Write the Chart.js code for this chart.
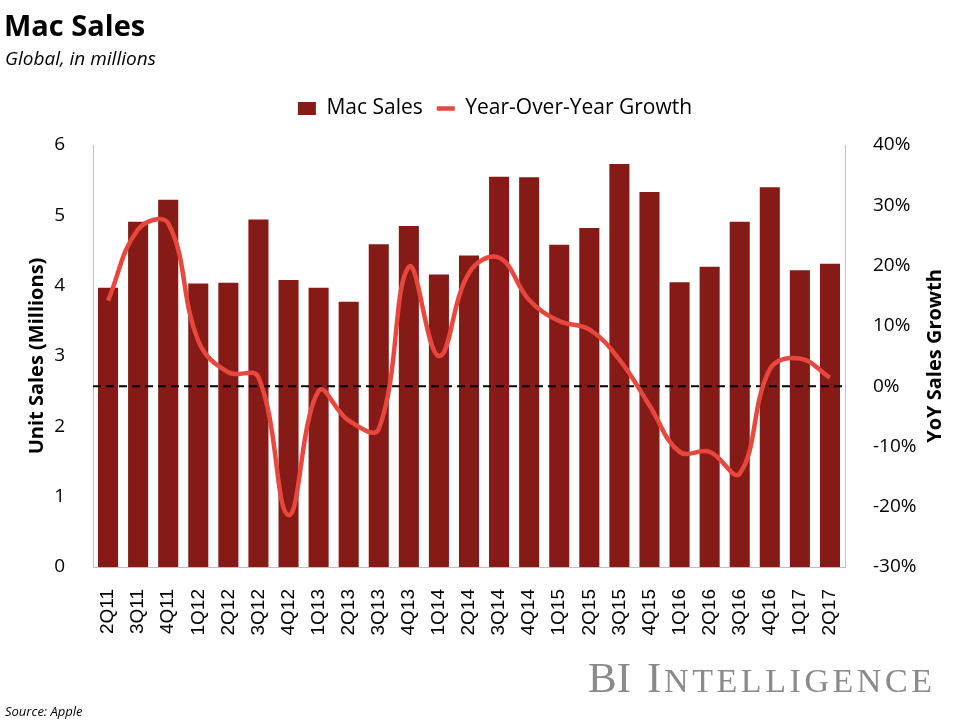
<!DOCTYPE html>
<html>
<head>
<meta charset="utf-8">
<title>Mac Sales</title>
<script src="https://cdn.jsdelivr.net/npm/chart.js@4.4.1/dist/chart.umd.min.js"></script>
<style>
  html, body { margin: 0; padding: 0; background: #fff; }
</style>
</head>
<body>
<canvas id="mac-chart" width="960" height="720"></canvas>
<script>
const quarters = [
    '2Q11', '3Q11', '4Q11', '1Q12', '2Q12', '3Q12', '4Q12', '1Q13', '2Q13',
    '3Q13', '4Q13', '1Q14', '2Q14', '3Q14', '4Q14', '1Q15', '2Q15', '3Q15',
    '4Q15', '1Q16', '2Q16', '3Q16', '4Q16', '1Q17', '2Q17'
];
// unit sales, millions
const macSales = [
    3.97, 4.91, 5.22, 4.03, 4.04, 4.94, 4.08, 3.97, 3.77,
    4.59, 4.85, 4.16, 4.43, 5.55, 5.54, 4.58, 4.82, 5.73,
    5.33, 4.05, 4.27, 4.91, 5.40, 4.22, 4.31
];
// year-over-year growth, percent
const yoyGrowth = [
    14.2, 26.0, 27.0, 7.5, 2.3, 1.5, -21.4, -0.8, -5.7,
    -7.1, 19.8, 5.0, 18.8, 21.3, 14.3, 10.8, 9.4, 4.4,
    -3.2, -10.9, -10.9, -14.5, 2.8, 4.6, 1.4
];
const salesTicks = [0, 6, 1];      // min, max, step
const growthTicks = [-30, 40, 10];

const barColor = '#851A16';
const lineColor = '#E8473D';
const axisColor = '#BFBFBF';

// push the plot area down a bit below the legend
const legendGap = {
    id: 'legendGap',
    afterInit(chart) {
        const fit = chart.legend.fit;
        chart.legend.fit = function () {
            fit.call(this);
            this.height += 16;
        };
    }
};

// dashed 0% line, over the bars but under the growth line
const zeroLine = {
    id: 'zeroLine',
    afterDatasetDraw(chart, args) {
        if (args.index !== 0) return;
        const {ctx, chartArea} = chart;
        const y = chart.scales.y1.getPixelForValue(0);
        ctx.save();
        ctx.strokeStyle = '#000';
        ctx.lineWidth = 2;
        ctx.setLineDash([8, 5]);
        ctx.beginPath();
        ctx.moveTo(chartArea.left, y);
        ctx.lineTo(chartArea.right, y);
        ctx.stroke();
        ctx.restore();
    }
};

const captions = {
    id: 'captions',
    afterDraw(chart) {
        const {ctx, chartArea} = chart;
        ctx.save();
        ctx.fillStyle = '#000';
        ctx.textAlign = 'left';
        ctx.textBaseline = 'alphabetic';
        ctx.font = 'bold 29px "Open Sans"';
        ctx.fillText('Mac Sales', 4, 36);
        ctx.font = 'italic 19px "Open Sans"';
        ctx.fillText('Global, in millions', 5, 65);
        ctx.font = 'italic 13px "Open Sans"';
        ctx.fillText('Source: Apple', 5, 716);

        // right axis title, reads bottom to top like the left one
        ctx.font = 'bold 20px "Open Sans"';
        ctx.textAlign = 'center';
        ctx.textBaseline = 'middle';
        ctx.translate(935, (chartArea.top + chartArea.bottom) / 2);
        ctx.rotate(-Math.PI / 2);
        ctx.fillText('YoY Sales Growth', 0, 0);
        ctx.restore();

        // BI Intelligence mark
        ctx.save();
        ctx.fillStyle = '#8A8A8A';
        ctx.textBaseline = 'alphabetic';
        ctx.textAlign = 'left';
        ctx.font = '43px "Liberation Serif"';
        ctx.fillText('BI', 588, 692);
        ctx.fillText('I', 647, 692);
        ctx.font = '34px "Liberation Serif"';
        const rest = 'NTELLIGENCE';
        let w = 0;
        for (const c of rest) w += ctx.measureText(c).width;
        const gap = (932 - 664 - w) / (rest.length - 1);
        let x = 664;
        for (const c of rest) {
            ctx.fillText(c, x, 692);
            x += ctx.measureText(c).width + gap;
        }
        ctx.restore();
    }
};

const tickFont = {family: '"Open Sans"', size: 19};

const config = {
    type: 'bar',
    data: {
        labels: quarters,
        datasets: [{
            label: 'Mac Sales',
            data: macSales,
            backgroundColor: barColor,
            borderWidth: 0,
            barPercentage: 0.667,
            categoryPercentage: 1,
            yAxisID: 'y',
            order: 1
        }, {
            type: 'line',
            label: 'Year-Over-Year Growth',
            data: yoyGrowth,
            borderColor: lineColor,
            backgroundColor: lineColor,
            borderWidth: 4.5,
            pointRadius: 0,
            tension: 0.4,
            fill: false,
            yAxisID: 'y1',
            order: 0
        }]
    },
    options: {
        responsive: false,
        animation: false,
        devicePixelRatio: 1,
        layout: {
            padding: {left: 30, right: 0, top: 84, bottom: 0}
        },
        plugins: {
            tooltip: {enabled: false},
            legend: {
                position: 'top',
                labels: {
                    color: '#000',
                    font: {family: '"Open Sans"', size: 21},
                    usePointStyle: true,
                    pointStyleWidth: 18,
                    boxHeight: 13,
                    padding: 14,
                    sort: (a, b) => a.datasetIndex - b.datasetIndex,
                    generateLabels(chart) {
                        const items = Chart.defaults.plugins.legend.labels.generateLabels(chart);
                        items.forEach(item => {
                            if (item.datasetIndex === 0) {
                                item.pointStyle = 'rect';
                                item.fillStyle = barColor;
                                item.lineWidth = 0;
                            } else {
                                item.pointStyle = 'line';
                                item.strokeStyle = lineColor;
                                item.lineWidth = 4.5;
                            }
                        });
                        return items;
                    }
                }
            }
        },
        scales: {
            x: {
                grid: {display: false},
                border: {display: true, color: axisColor},
                ticks: {
                    autoSkip: false,
                    minRotation: 90,
                    maxRotation: 90,
                    padding: 14,
                    color: '#000',
                    font: {family: '"Liberation Sans"', size: 19}
                },
                afterFit(scale) { scale.height = 153; }
            },
            y: {
                position: 'left',
                min: salesTicks[0],
                max: salesTicks[1],
                grid: {display: false},
                border: {display: true, color: axisColor},
                ticks: {stepSize: salesTicks[2], padding: 20, color: '#000', font: tickFont},
                title: {
                    display: true,
                    text: 'Unit Sales (Millions)',
                    color: '#000',
                    font: {family: '"Open Sans"', size: 20, weight: 'bold'},
                    padding: {top: -5, bottom: 0}
                },
                afterFit(scale) { scale.width = 63; }
            },
            y1: {
                position: 'right',
                min: growthTicks[0],
                max: growthTicks[1],
                grid: {display: false},
                border: {display: true, color: axisColor},
                ticks: {
                    stepSize: growthTicks[2],
                    padding: 20,
                    color: '#000',
                    font: tickFont,
                    callback: v => v + '%'
                },
                afterFit(scale) { scale.width = 115; }
            }
        }
    },
    plugins: [legendGap, zeroLine, captions]
};

var macChart = new Chart(document.getElementById('mac-chart'), config);
</script>
</body>
</html>
